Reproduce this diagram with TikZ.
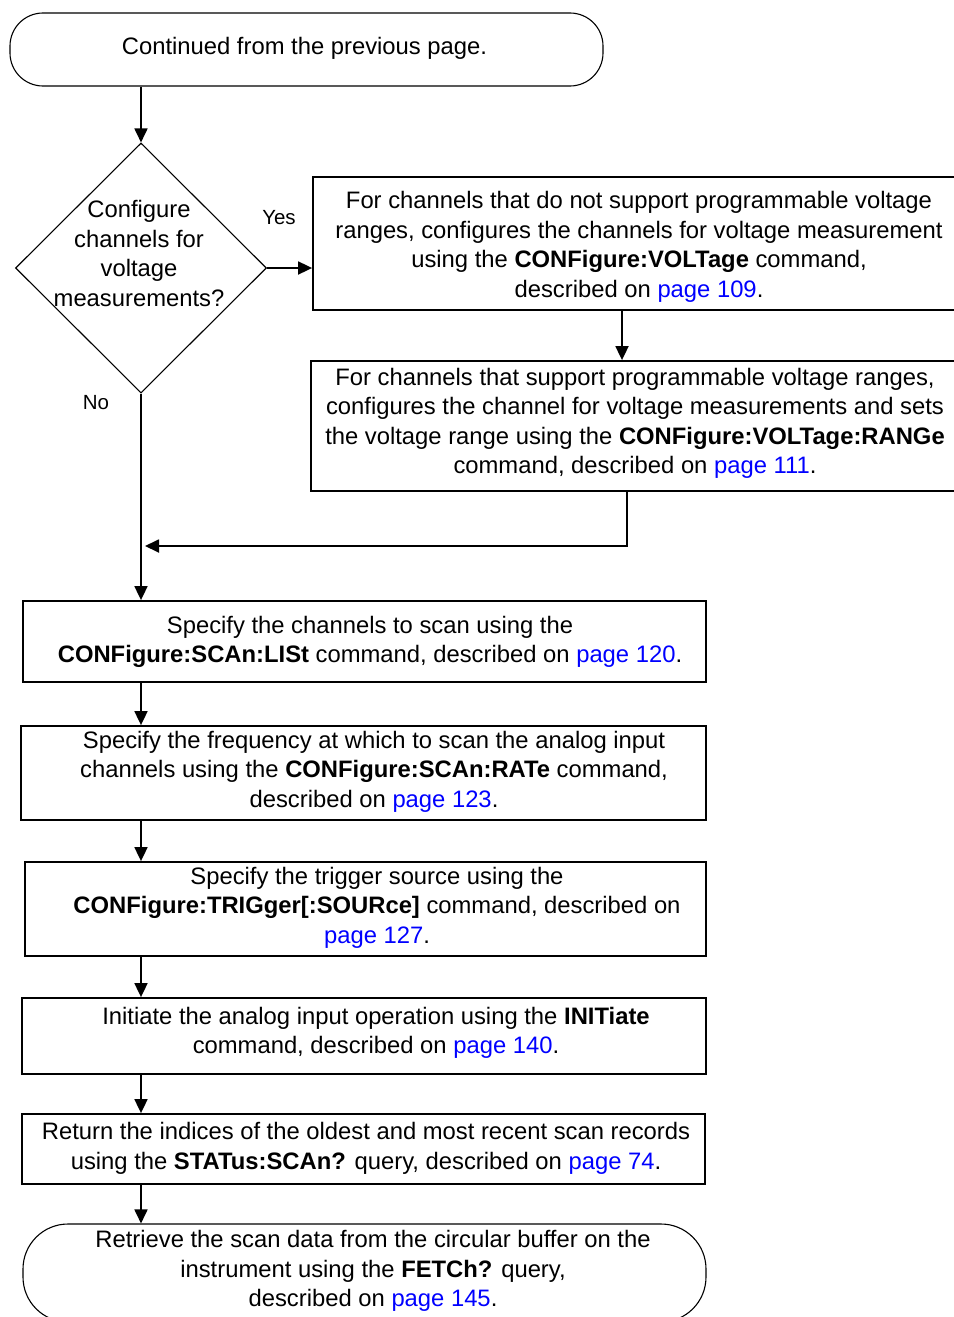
\documentclass[tikz,border=0pt]{standalone}
\usepackage{fontspec}
\setmainfont{Liberation Sans}
\usetikzlibrary{arrows.meta,shapes.geometric,calc}
\definecolor{linkblue}{RGB}{0,0,255}
\newcommand{\pg}[1]{\textcolor{linkblue}{page #1}}

\begin{document}
\begin{tikzpicture}[x=1pt,y=-1pt,
  txt/.style={align=center, font=\fontsize{23.8}{29.5}\selectfont, inner sep=0pt, yshift=-2pt},
  lbl/.style={font=\fontsize{20.5}{24}\selectfont, inner sep=0pt},
  stepbox/.style={draw, line width=1.8pt, rectangle, inner sep=0pt},
  term/.style={draw, line width=1.1pt, rectangle, inner sep=0pt},
  decision/.style={draw, diamond, aspect=1, line width=1.1pt, inner sep=0pt,
                   minimum width=251pt, minimum height=250pt},
  flow/.style={line width=1.8pt, -{Triangle[length=14pt,width=13pt]}},
  plain/.style={line width=1.8pt}]

\useasboundingbox (0,0) rectangle (953,1317);

% main column of the flow
\coordinate (spine) at (141,0);

% start terminator
\node[term, rounded corners=33pt, minimum width=593pt, minimum height=73pt]
  (start) at (306.5,49.5) {};
\node[txt] (starttxt) at (304.5,46) {Continued from the previous page.};

% decision
\node[decision] (dec) at (141,268) {};
\node[txt] (dectxt) at (139,251.5) {Configure\\channels for\\voltage\\measurements?};
\node[lbl] (yes) at (279,218) {Yes};
\node[lbl] (no) at (96,403) {No};

% voltage configuration branch
\node[stepbox, minimum width=653pt, minimum height=133pt] (b1) at (639.5,243.5) {};
\node[txt] (t1) at (639,245) {For channels that do not support programmable voltage\\
  ranges, configures the channels for voltage measurement\\
  using the \textbf{CONFigure:VOLTage} command,\\
  described on \pg{109}.};

\node[stepbox, minimum width=649pt, minimum height=130pt] (b2) at (635.5,426) {};
\node[txt] (t2) at (635,421.5) {For channels that support programmable voltage ranges,\\
  configures the channel for voltage measurements and sets\\
  the voltage range using the \textbf{CONFigure:VOLTage:RANGe}\\
  command, described on \pg{111}.};

% scan steps
\node[stepbox, minimum width=683pt, minimum height=81pt] (b3) at (364.5,641.5) {};
\node[txt] (t3) at (370,640) {Specify the channels to scan using the\\
  \textbf{CONFigure:SCAn:LISt} command, described on \pg{120}.};

\node[stepbox, minimum width=685pt, minimum height=94pt] (b4) at (363.5,773) {};
\node[txt] (t4) at (374,769.5) {Specify the frequency at which to scan the analog input\\
  channels using the \textbf{CONFigure:SCAn:RATe} command,\\
  described on \pg{123}.};

\node[stepbox, minimum width=681pt, minimum height=94pt] (b5) at (365.5,909) {};
\node[txt] (t5) at (377,905.5) {Specify the trigger source using the\\
  \textbf{CONFigure:TRIGger[:SOURce]} command, described on\\
  \pg{127}.};

\node[stepbox, minimum width=684pt, minimum height=76pt] (b6) at (364,1036) {};
\node[txt] (t6) at (376,1031) {Initiate the analog input operation using the \textbf{INITiate}\\
  command, described on \pg{140}.};

\node[stepbox, minimum width=683pt, minimum height=70pt] (b7) at (363.5,1149) {};
\node[txt] (t7) at (366,1146.5) {Return the indices of the oldest and most recent scan records\\
  using the \textbf{STATus:SCAn?} query, described on \pg{74}.};

% end terminator
\node[term, rounded corners=45pt, minimum width=683pt, minimum height=98pt]
  (finish) at (364.5,1273) {};
\node[txt] (t8) at (373,1269) {Retrieve the scan data from the circular buffer on the\\
  instrument using the \textbf{FETCh?} query,\\
  described on \pg{145}.};

% connectors
\coordinate (merge) at (145,546);
\draw[flow] (dec.north |- start.south) -- (dec.north);
\draw[flow] (dec.east) -- (dec.east -| b1.west);
\draw[flow] ([xshift=-17.5pt]b1.south) -- ([xshift=-17.5pt]b1.south |- b2.north);
\draw[flow] ([xshift=-8.5pt]b2.south) |- (merge);
\draw[flow] (dec.south) -- (dec.south |- b3.north);
\draw[flow] (spine |- b3.south) -- (spine |- b4.north);
\draw[flow] (spine |- b4.south) -- (spine |- b5.north);
\draw[flow] (spine |- b5.south) -- (spine |- b6.north);
\draw[flow] (spine |- b6.south) -- (spine |- b7.north);
\draw[flow] (spine |- b7.south) -- (spine |- finish.north);
\end{tikzpicture}
\end{document}
